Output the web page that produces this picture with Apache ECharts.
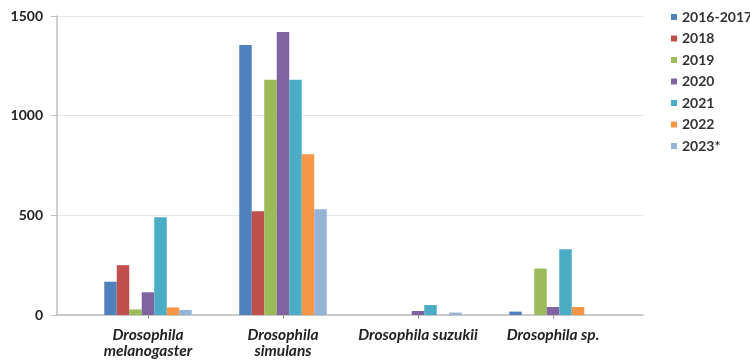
<!DOCTYPE html>
<html>
<head>
<meta charset="utf-8">
<script src="https://cdn.jsdelivr.net/npm/echarts@6/dist/echarts.min.js"></script>
<style>
html, body { margin: 0; padding: 0; background: #fff; }
#main { width: 750px; height: 363px; }
</style>
</head>
<body>
<div id="main"></div>
<script>
var species = ['Drosophila melanogaster', 'Drosophila simulans', 'Drosophila suzukii', 'Drosophila sp.'];
var years = ['2016-2017', '2018', '2019', '2020', '2021', '2022', '2023*'];
var colors = ['#4F81BD', '#C0504D', '#9BBB59', '#8064A2', '#4BACC6', '#F79646', '#95B3D7'];

// one array per year, in species order
var v2016_2017 = [167, 1355, 0, 17];
var v2018 = [250, 520, 0, 0];
var v2019 = [28, 1180, 0, 233];
var v2020 = [114, 1420, 20, 40];
var v2021 = [490, 1180, 50, 330];
var v2022 = [38, 807, 0, 40];
var v2023 = [25, 530, 12, 0];
var values = [v2016_2017, v2018, v2019, v2020, v2021, v2022, v2023];

var yTicks = { min: 0, max: 1500, interval: 500 };

var myChart = echarts.init(document.getElementById('main'));

var series = [];
for (var i = 0; i < years.length; i++) {
	series.push({
		name: years[i],
		type: 'bar',
		xAxisIndex: 1,
		yAxisIndex: 1,
		barWidth: 12.5,
		barGap: '0%',
		itemStyle: { color: colors[i] },
		data: values[i]
	});
}

var option = {
	textStyle: { fontFamily: 'Lato' },
	legend: {
		orient: 'vertical',
		left: 666,
		top: 5,
		itemWidth: 6,
		itemHeight: 6,
		itemGap: 7.5,
		icon: 'rect',
		textStyle: { fontSize: 14, lineHeight: 14, fontWeight: 'bold', color: '#333', fontFamily: 'Lato' },
		data: years
	},
	grid: [
		// wide grid: axis line, gridlines, y labels
		{ left: 57, right: 107, top: 16, bottom: 48 },
		// narrow grid: the bars and category labels
		{ left: 80.5, right: 129.5, top: 16, bottom: 48 }
	],
	xAxis: [
		{
			gridIndex: 0,
			type: 'category',
			data: species,
			axisLine: { lineStyle: { color: '#bdbdbd', width: 1.5 } },
			axisTick: { show: false },
			axisLabel: { show: false }
		},
		{
			gridIndex: 1,
			type: 'category',
			data: species,
			axisLine: { show: false },
			axisTick: { show: true, alignWithLabel: true, length: 4, lineStyle: { color: '#999' } },
			axisLabel: {
				interval: 0,
				margin: 12,
				fontSize: 15.5,
				fontWeight: 'bold',
				fontStyle: 'italic',
				color: '#222',
				lineHeight: 16,
				formatter: function (name) {
					return name.length > 18 ? name.replace(' ', '\n') : name;
				}
			}
		}
	],
	yAxis: [
		{
			gridIndex: 0,
			type: 'value',
			min: yTicks.min,
			max: yTicks.max,
			interval: yTicks.interval,
			axisLine: { show: true, lineStyle: { color: '#bdbdbd', width: 1.5 } },
			axisTick: { show: true, length: 6, lineStyle: { color: '#bdbdbd' } },
			axisLabel: {
				margin: 14,
				fontSize: 14,
				fontWeight: 'bold',
				color: '#222',
				formatter: function (v) { return String(v); }
			},
			splitLine: { lineStyle: { color: '#e6e6e6' } }
		},
		{
			gridIndex: 1,
			type: 'value',
			min: yTicks.min,
			max: yTicks.max,
			interval: yTicks.interval,
			show: false
		}
	],
	series: series
};

myChart.setOption(option);
</script>
</body>
</html>
